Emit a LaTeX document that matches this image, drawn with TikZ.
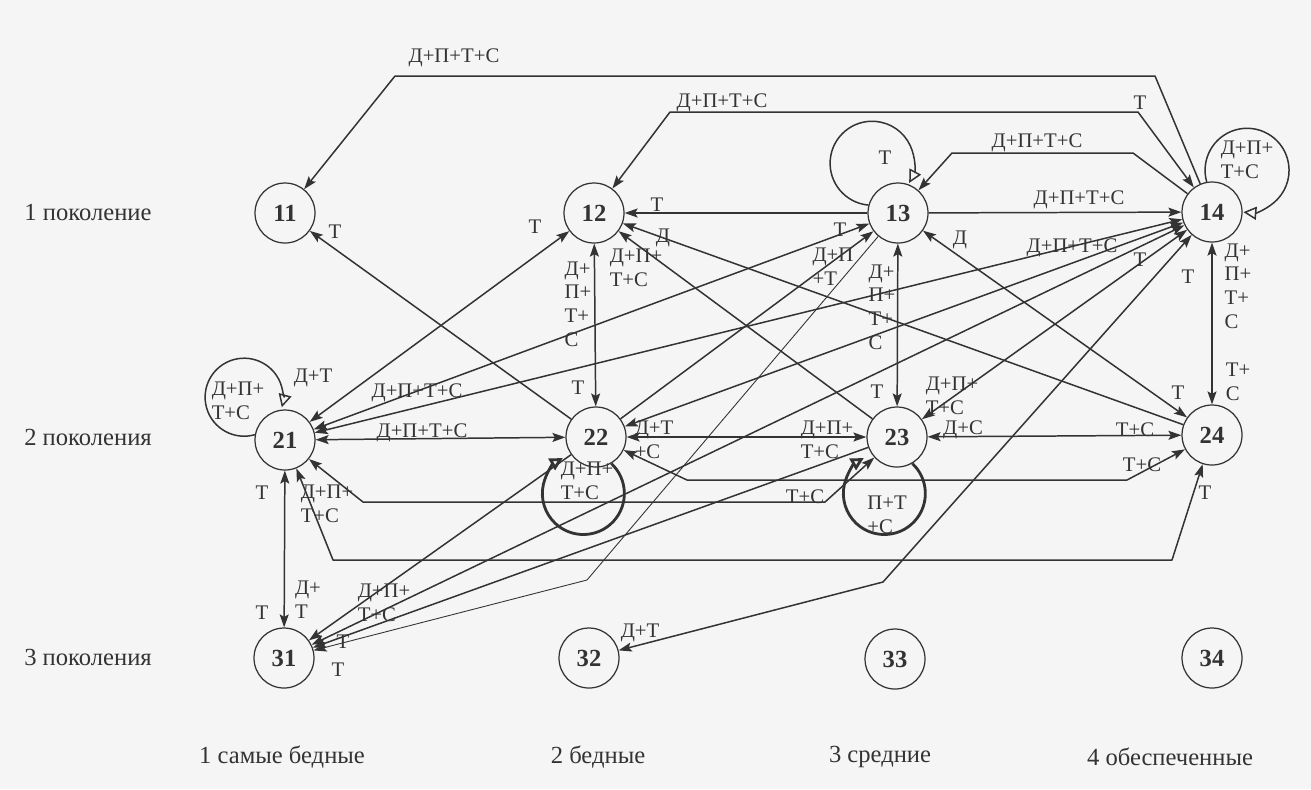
\documentclass[tikz,border=0pt]{standalone}
\usepackage{fontspec}
\setmainfont{Liberation Serif}
\usetikzlibrary{arrows.meta}
\colorlet{ink}{black!80}
\tikzset{
  st/.style={circle, draw=ink, line width=0.7pt, minimum size=1.2cm, inner sep=0pt, text=ink, font=\fontsize{14}{14}\selectfont\bfseries},
  lb/.style={inner sep=0pt, align=left, text=ink, font=\fontsize{11.8}{13.5}\selectfont},
  hd/.style={inner sep=0pt, text=ink, font=\fontsize{14}{14}\selectfont},
  ln/.style={draw=ink, line width=0.85pt},
  lp/.style={draw=ink, line width=0.85pt, -{Triangle[open,length=2.6mm,width=2.6mm]}},
  lpb/.style={lp, line width=1.6pt},
}
\begin{document}
\begin{tikzpicture}[x=0.02cm, y=0.02cm, >={Stealth[length=2.6mm,width=1.8mm,inset=0.5mm]}, line join=round]
\fill[gray!8] (0,0) rectangle (1311,-789);
\useasboundingbox (0,0) rectangle (1311,-789);
% узлы
\node[st] (n11) at (285,-213) {11};
\node[st] (n12) at (594,-213) {12};
\node[st] (n13) at (898,-213) {13};
\node[st] (n14) at (1212,-212) {14};
\node[st] (n21) at (285,-440) {21};
\node[st] (n22) at (596,-437) {22};
\node[st] (n23) at (897,-437) {23};
\node[st] (n24) at (1212,-435) {24};
\node[st] (n31) at (284,-658) {31};
\node[st] (n32) at (589,-658) {32};
\node[st] (n33) at (895,-659) {33};
\node[st] (n34) at (1212,-658) {34};
% строки и столбцы
\node[hd] (r1) at (88,-212) {1 поколение};
\node[hd] (r2) at (88,-437) {2 поколения};
\node[hd] (r3) at (88,-657) {3 поколения};
\node[hd] (c1) at (282,-757) {1 самые бедные};
\node[hd] (c2) at (598,-757) {2 бедные};
\node[hd] (c3) at (880,-757) {3 средние};
\node[hd] (c4) at (1170,-757) {4 обеспеченные};
% первое поколение
\draw[ln,->] (n14) -- (1155,-76) -- (395,-76) -- (n11);
\draw[ln,<->] (n14) -- (1138,-112) -- (670,-112) -- (n12);
\draw[ln,->] (n14) -- (1133,-153) -- (952,-153) -- (n13);
\draw[ln,->] (n13) -- (n14);
\draw[ln,->] (n13) -- (n12);
\draw[lp] (n13.165) arc[start angle=265, end angle=-28, radius=42];
\draw[lp] (n14.100) arc[start angle=196, end angle=-95, radius=42];
% между первым и вторым
\draw[ln,->] (n22) -- (n11);
\draw[ln,<->] (n21) -- (n12);
\draw[ln,<->] (n21) -- (n13);
\draw[ln,<->] (n21) -- (n14);
\draw[ln,->] (n22) -- (n13);
\draw[ln,<->] (n22) -- (n14);
\draw[ln,<->] (n23) -- (n14);
\draw[ln,<->] (n24) -- (n13);
\draw[ln,->] (n24) -- (n12);
\draw[ln,->] (n23) -- (n12);
\draw[ln,<->] (n12) -- (n22);
\draw[ln,<->] (n13) -- (n23);
\draw[ln,<->] (n14) -- (n24);
% второе поколение
\draw[ln,<->] (n21) -- (n22);
\draw[ln,<->] (n22) -- (n23);
\draw[ln,<->] (n23) -- (n24);
\draw[ln,<->] (n22) -- (687,-480) -- (1127,-480) -- (n24);
\draw[ln,<->] (n21) -- (363,-502) -- (825,-502) -- (n23);
\draw[ln,<->] (n21) -- (333,-560) -- (1172,-560) -- (n24);
\draw[lp] (n21.170) arc[start angle=286, end angle=-15, radius=39];
\draw[lpb] (n22.-60) arc[start angle=47, end angle=-240, radius=41];
\draw[lpb] (n23.-60) arc[start angle=47, end angle=-240, radius=41];
% третье поколение
\draw[ln,<->] (n21) -- (n31);
\draw[ln,->] (n22) -- (n31);
\draw[ln,<->] (n14) -- (n31);
\draw[ln,->] (n23) -- (n31);
\draw[ln,line width=0.5pt,->] (n13) -- (587,-580) -- (n31);
\draw[ln,<->] (n14) -- (883,-582) -- (n32);
% подписи
\node[lb] (l1) at (454,-58) {Д+П+Т+С};
\node[lb] (l2) at (722,-103) {Д+П+Т+С};
\node[lb] (l3) at (1140,-103) {Т};
\node[lb] (l4) at (1037,-143) {Д+П+Т+С};
\node[lb] (l5) at (885,-158) {Т};
\node[lb] (l6) at (1247,-160) {Д+П+\\Т+С};
\node[lb] (l7) at (1079,-200) {Д+П+Т+С};
\node[lb] (l8) at (657,-205) {Т};
\node[lb] (l9) at (335,-232) {Т};
\node[lb] (l10) at (535,-227) {Т};
\node[lb] (l11) at (663,-238) {Д};
\node[lb] (l12) at (636,-268) {Д+П+\\Т+С};
\node[lb] (l13) at (840,-230) {Т};
\node[lb] (l14) at (833,-267) {Д+П\\+Т};
\node[lb] (l15) at (960,-240) {Д};
\node[lb] (l16) at (578,-304) {Д+\\П+\\Т+\\С};
\node[lb] (l17) at (578,-388) {Т};
\node[lb] (l18) at (882,-307) {Д+\\П+\\Т+\\С};
\node[lb] (l19) at (877,-392) {Т};
\node[lb] (l20) at (1238,-286) {Д+\\П+\\Т+\\С};
\node[lb] (l21) at (1238,-382) {Т+\\С};
\node[lb] (l22) at (1072,-248) {Д+П+Т+С};
\node[lb] (l23) at (1140,-260) {Т};
\node[lb] (l24) at (1188,-277) {Т};
\node[lb] (l25) at (238,-401) {Д+П+\\Т+С};
\node[lb] (l26) at (313,-378) {Д+Т};
\node[lb] (l27) at (417,-393) {Д+П+Т+С};
\node[lb] (l28) at (422,-433) {Д+П+Т+С};
\node[lb] (l29) at (952,-396) {Д+П+\\Т+С};
\node[lb] (l30) at (1178,-393) {Т};
\node[lb] (l31) at (654,-440) {Д+Т\\+С};
\node[lb] (l32) at (827,-440) {Д+П+\\Т+С};
\node[lb] (l33) at (963,-430) {Д+С};
\node[lb] (l34) at (1135,-430) {Т+С};
\node[lb] (l35) at (1142,-465) {Т+С};
\node[lb] (l36) at (587,-481) {Д+П+\\Т+С};
\node[lb] (l37) at (887,-515) {П+Т\\+С};
\node[lb] (l38) at (805,-497) {Т+С};
\node[lb] (l39) at (1205,-493) {Т};
\node[lb] (l40) at (327,-504) {Д+П+\\Т+С};
\node[lb] (l41) at (262,-493) {Т};
\node[lb] (l42) at (262,-613) {Т};
\node[lb] (l43) at (308,-600) {Д+\\Т};
\node[lb] (l44) at (384,-603) {Д+П+\\Т+С};
\node[lb] (l45) at (343,-642) {Т};
\node[lb] (l46) at (338,-670) {Т};
\node[lb] (l47) at (640,-633) {Д+Т};
\end{tikzpicture}
\end{document}
